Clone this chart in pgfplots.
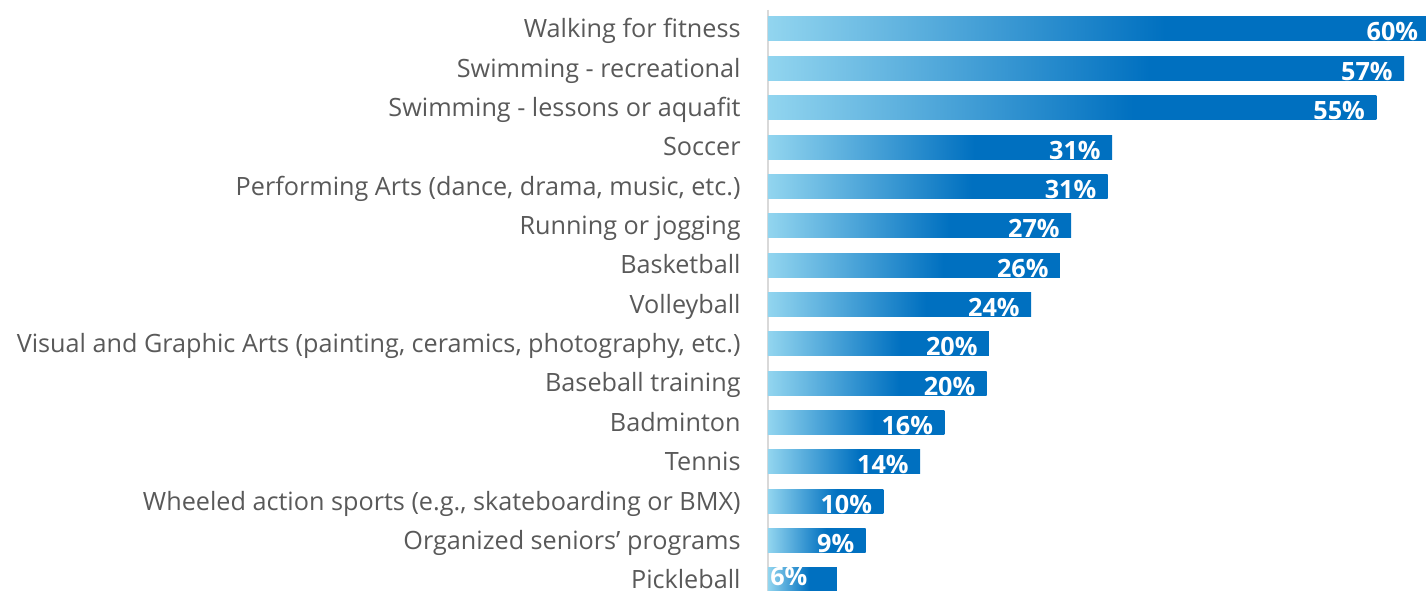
\documentclass[border=0pt]{standalone}
\usepackage{fontspec}
\setmainfont{Open Sans}
\usepackage{pgfplots}
\pgfplotsset{compat=1.18}
\definecolor{barlight}{HTML}{92D5EF}
\definecolor{bardark}{HTML}{0070C0}
\definecolor{labelgray}{HTML}{595959}
\definecolor{axisgray}{HTML}{D9D9D9}
\pgfdeclarehorizontalshading{barshade}{100bp}{color(0bp)=(barlight); color(25bp)=(barlight); color(55bp)=(bardark); color(100bp)=(bardark)}
\pgfplotsset{bstyle/.style={draw=none, shade, shading=barshade, bar shift=0pt}}
\begin{document}
\begin{tikzpicture}
\begin{axis}[
  scale only axis, width=344.1pt, height=290.5pt,
  xbar, bar width=12pt, bar shift=0pt,
  xmin=0, xmax=62,
  ymin=-0.483, ymax=14.28, y dir=reverse,
  clip=false,
  axis y line*=left, axis x line=none,
  y axis line style={axisgray, line width=1pt},
  ytick={0,...,14},
  yticklabels={Walking for fitness, Swimming - recreational, Swimming - lessons or aquafit, Soccer, {Performing Arts (dance, drama, music, etc.)}, Running or jogging, Basketball, Volleyball, {Visual and Graphic Arts (painting, ceramics, photography, etc.)}, Baseball training, Badminton, Tennis, {Wheeled action sports (e.g., skateboarding or BMX)}, Organized seniors' programs, Pickleball},
  major tick length=0pt,
  yticklabel style={font=\fontsize{12.6}{14}\selectfont, text=labelgray, inner sep=0pt, anchor=base east, xshift=-13.5pt, yshift=-4.4pt},
  nodes near coords={\pgfmathprintnumber[fixed,precision=0,assume math mode=true]{\pgfplotspointmeta}\%},
  nodes near coords style={font=\fontsize{12.6}{14}\selectfont\bfseries, text=white, anchor=base east, inner sep=0pt, xshift=-5.5pt, yshift=-6pt},
]
\addplot[bstyle] coordinates {(59.6,0)};
\addplot[bstyle] coordinates {(57.3,1)};
\addplot[bstyle] coordinates {(54.8,2)};
\addplot[bstyle] coordinates {(31.0,3)};
\addplot[bstyle] coordinates {(30.6,4)};
\addplot[bstyle] coordinates {(27.3,5)};
\addplot[bstyle] coordinates {(26.3,6)};
\addplot[bstyle] coordinates {(23.7,7)};
\addplot[bstyle] coordinates {(19.9,8)};
\addplot[bstyle] coordinates {(19.7,9)};
\addplot[bstyle] coordinates {(15.9,10)};
\addplot[bstyle] coordinates {(13.7,11)};
\addplot[bstyle] coordinates {(10.4,12)};
\addplot[bstyle] coordinates {(8.8,13)};
\addplot[bstyle, nodes near coords style={xshift=-9pt, yshift=3pt}] coordinates {(6.2,14)};
\end{axis}
\pgfresetboundingbox
\useasboundingbox ([xshift=-384pt]current axis.south west) rectangle ([xshift=329pt, yshift=5pt]current axis.north west);
\end{tikzpicture}
\end{document}
